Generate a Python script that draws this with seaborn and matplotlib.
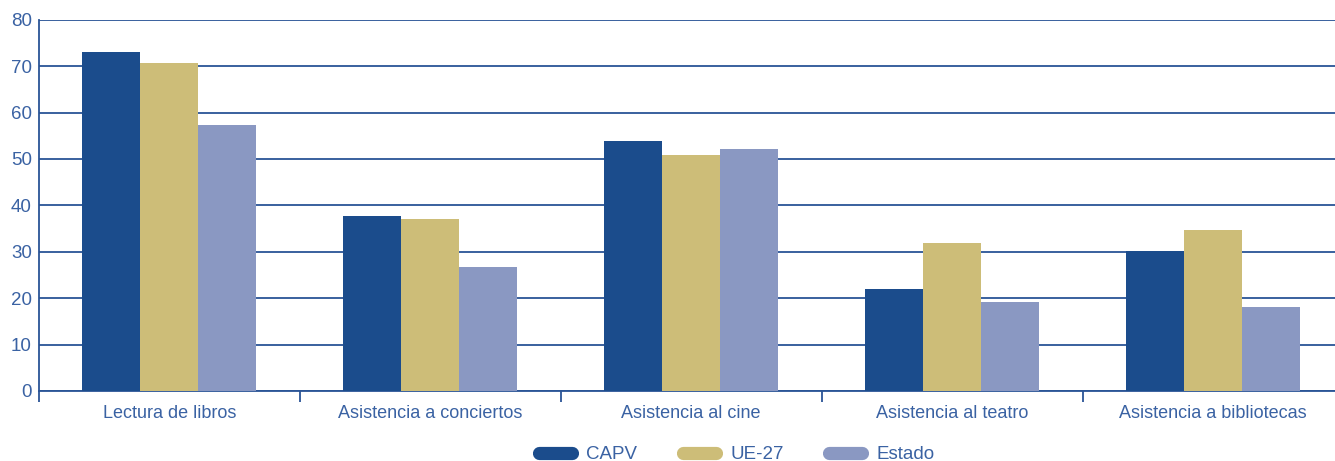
import pandas as pd
import numpy as np
import seaborn as sns
import matplotlib.pyplot as plt
from matplotlib.lines import Line2D

categorias = ["Lectura de libros", "Asistencia a conciertos", "Asistencia al cine",
              "Asistencia al teatro", "Asistencia a bibliotecas"]
capv = [73.1, 37.7, 53.9, 22.0, 30.2]
ue27 = [70.7, 37.1, 50.9, 31.9, 34.7]
estado = [57.3, 26.7, 52.2, 19.2, 18.1]
series = ["CAPV", "UE-27", "Estado"]
colores = ["#1b4c8c", "#cdbd78", "#8a98c2"]

df = pd.DataFrame({
    "categoria": categorias * 3,
    "valor": capv + ue27 + estado,
    "serie": [s for s in series for _ in categorias],
})

sns.set_style("white")
plt.rcParams["font.family"] = ["Liberation Sans", "DejaVu Sans"]
txt = "#3a62a3"
linea = "#2a5496"

fig = plt.figure(figsize=(13.35, 4.61), dpi=100)
# el eje se sale un poco por la derecha, como en el original
ax = fig.add_axes([0.029, 0.152, 0.9775, 0.805])

sns.barplot(data=df, x="categoria", y="valor", hue="serie",
            palette=colores, width=0.667, saturation=1,
            edgecolor="none", linewidth=0, legend=False, ax=ax, zorder=3)

ax.set_ylim(0, 80)
ax.set_xlim(-0.5, 4.5)
ax.set_yticks(np.arange(0, 81, 10))
ax.yaxis.grid(True, color=linea, linewidth=1.3, zorder=0)
ax.set_axisbelow(True)
for s in ["top", "right"]:
    ax.spines[s].set_visible(False)
ax.spines["left"].set_color(linea)
ax.spines["bottom"].set_color(linea)
ax.spines["left"].set_linewidth(1.3)
ax.spines["bottom"].set_linewidth(1.3)

ax.set_xlabel("")
ax.set_ylabel("")
ax.tick_params(axis="y", length=0, labelsize=13.5, labelcolor=txt, pad=5)
ax.tick_params(axis="x", which="major", length=0, labelsize=13, labelcolor=txt, pad=10)
ax.set_xticks(np.arange(-0.5, 4.6, 1), minor=True)
ax.tick_params(axis="x", which="minor", bottom=True, length=8, width=1.3,
               color=linea, direction="out")

handles = [Line2D([0], [0], color=c, linewidth=9.5, solid_capstyle="round") for c in colores]
fig.legend(handles, series, loc="center", bbox_to_anchor=(0.552, 0.014), ncol=3,
           frameon=False, fontsize=13.5, labelcolor=txt, handlelength=1.75,
           columnspacing=2.45, handletextpad=0.75)

fig.savefig("out.png", dpi=100)
